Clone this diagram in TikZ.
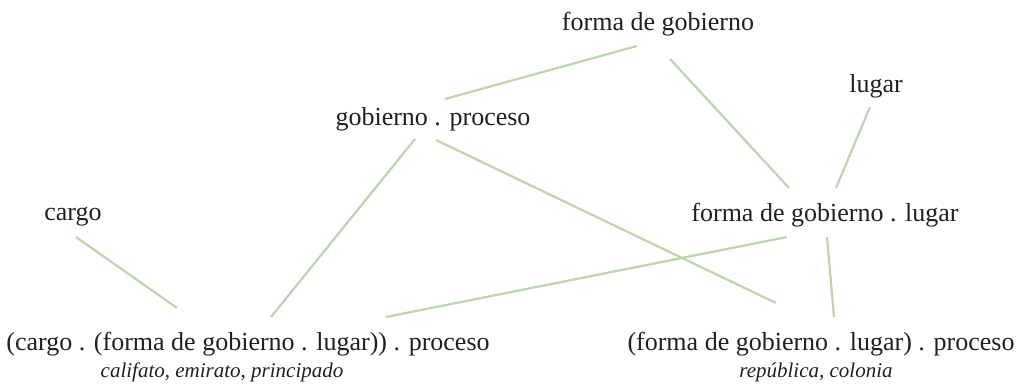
\documentclass[tikz,border=0pt]{standalone}
\usepackage{fontspec}
\setmainfont{Liberation Serif}
\definecolor{conncol}{RGB}{189,212,175}
\definecolor{txtcol}{RGB}{35,31,32}
\tikzset{
  term/.style={anchor=base, inner sep=0pt, text=txtcol, font=\fontsize{26}{30}\selectfont},
  examples/.style={anchor=base, inner sep=0pt, text=txtcol, font=\fontsize{21}{24}\selectfont\itshape},
  conn/.style={draw=conncol, line width=2.2pt}
}
\begin{document}
\begin{tikzpicture}[x=1pt,y=-1pt]
\useasboundingbox (0,0) rectangle (1017,390);
\node[term] (fg)   at (658,31)  {forma de gobierno};
\node[term] (lug)  at (876,93)  {lugar};
\node[term] (gp)   at (433,126) {gobierno . proceso};
\node[term] (car)  at (73,221)  {cargo};
\node[term] (fgl)  at (825,222) {forma de gobierno . lugar};
\node[term] (cgp)  at (248,350) {(cargo . (forma de gobierno . lugar)) . proceso};
\node[examples] (cgpx) at (222,377) {califato, emirato, principado};
\node[term] (fglp) at (821,350) {(forma de gobierno . lugar) . proceso};
\node[examples] (fglpx) at (816,377) {república, colonia};

\draw[conn] ([shift={(-21,15)}]fg.base) -- ([shift={(12,-27)}]gp.base);
\draw[conn] ([shift={(12,28)}]fg.base) -- ([shift={(-36,-34)}]fgl.base);
\draw[conn] ([shift={(-6,14)}]lug.base) -- ([shift={(11,-34)}]fgl.base);
\draw[conn] ([shift={(-18,13)}]gp.base) -- ([shift={(23,-33)}]cgp.base);
\draw[conn] ([shift={(3,14)}]gp.base) -- ([shift={(-45,-47)}]fglp.base);
\draw[conn] ([shift={(3,16)}]car.base) -- ([shift={(-71,-42)}]cgp.base);
\draw[conn] ([shift={(-38,15)}]fgl.base) -- ([shift={(138,-33)}]cgp.base);
\draw[conn] ([shift={(2,15)}]fgl.base) -- ([shift={(13,-33)}]fglp.base);
\end{tikzpicture}
\end{document}
